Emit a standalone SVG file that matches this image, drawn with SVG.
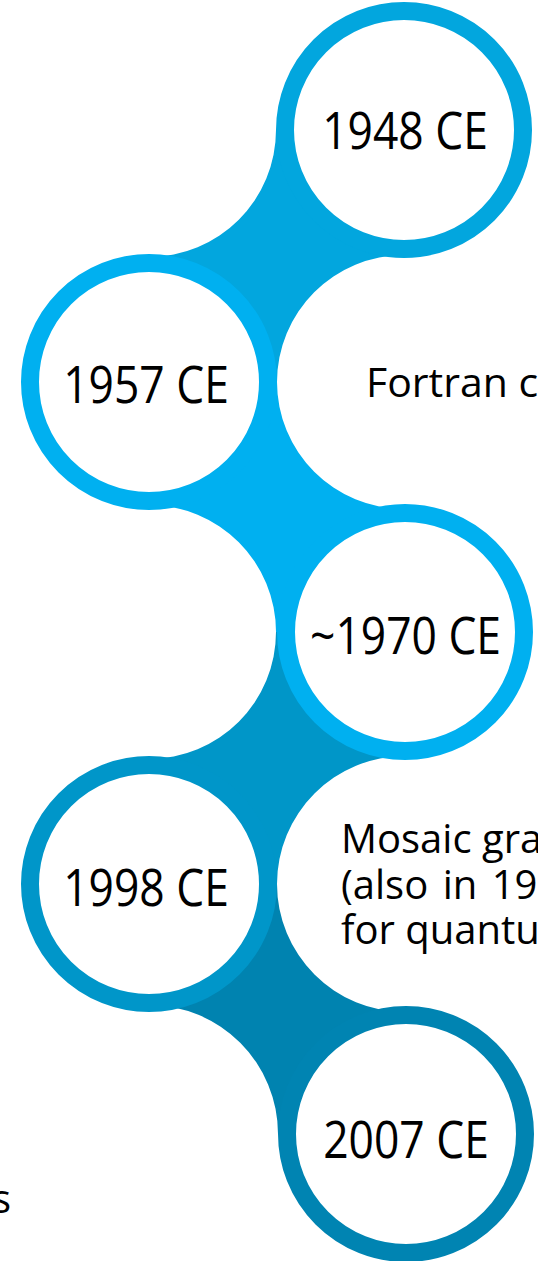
<svg xmlns="http://www.w3.org/2000/svg" width="538" height="1261" viewBox="0 0 538 1261">
  <style>
    .ring { fill: #ffffff; stroke-width: 18; }
    .year { font-family: "Open Sans", "Noto Sans", sans-serif; font-size: 51px; fill: #000000; text-anchor: middle; }
    .desc { font-family: "Open Sans", "Noto Sans", sans-serif; font-size: 40px; fill: #000000; }
  </style>
  <rect width="538" height="1261" fill="#ffffff"/>

  <!-- links between consecutive steps: the square between two centres, minus the two empty corner circles -->
  <g id="connectors">
    <path id="link-1948-1957" fill="#02A6DE" d="M 276,130 H 404 V 255 A 127 127 0 0 0 277,382 H 149 V 257 A 127 127 0 0 0 276,130 Z"/>
    <path id="link-1957-1970" fill="#00B0F0" d="M 149,382 H 277 A 127 127 0 0 0 404,509 L 405,509 V 632 H 276 A 127 127 0 0 0 149,505 Z"/>
    <path id="link-1970-1998" fill="#0096C8" d="M 276,632 H 405 V 756 A 128 128 0 0 0 277,884 H 149 V 759 A 127 127 0 0 0 276,632 Z"/>
    <path id="link-1998-2007" fill="#0083B0" d="M 149,884 H 277 A 128 128 0 0 0 405,1012 L 406,1012 V 1134 H 278 A 129 129 0 0 0 149,1005 Z"/>
  </g>

  <g id="step-1948">
    <circle class="ring" cx="404" cy="130" r="119" stroke="#02A6DE"/>
    <text class="year" transform="translate(405 149) scale(0.87 1)">1948 CE</text>
  </g>
  <g id="step-1957">
    <circle class="ring" cx="149" cy="382" r="119" stroke="#00B0F0"/>
    <text class="year" transform="translate(146 403) scale(0.87 1)">1957 CE</text>
    <text class="desc" x="366" y="397" style="font-size:41px">Fortran c</text>
  </g>
  <g id="step-1970">
    <circle class="ring" cx="405" cy="632" r="119" stroke="#00B0F0"/>
    <text class="year" transform="translate(405.5 654) scale(0.87 1)">~1970 CE</text>
  </g>
  <g id="step-1998">
    <circle class="ring" cx="149" cy="884" r="119" stroke="#0096C9"/>
    <text class="year" transform="translate(146 906) scale(0.87 1)">1998 CE</text>
    <text class="desc" x="341" y="853">Mosaic gra</text>
    <text class="desc" x="341" y="899" word-spacing="4">(also in 19</text>
    <text class="desc" x="341" y="944">for quantu</text>
  </g>
  <g id="step-2007">
    <circle class="ring" cx="406" cy="1134" r="119" stroke="#0084B2"/>
    <text class="year" transform="translate(406 1158) scale(0.87 1)">2007 CE</text>
    <text class="desc" x="-8" y="1213">s</text>
  </g>
</svg>
